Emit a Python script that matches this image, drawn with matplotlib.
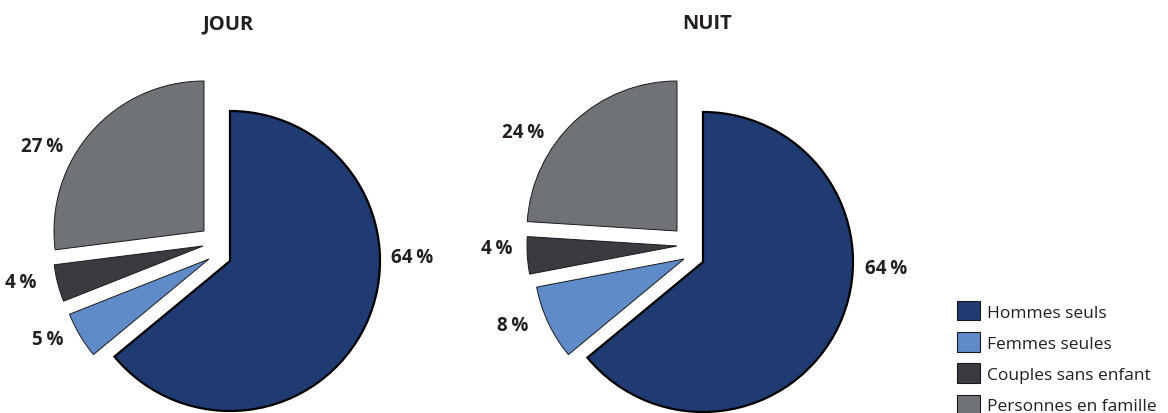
import matplotlib.pyplot as plt

# household shares, day and night
categories = ["Hommes seuls", "Femmes seules", "Couples sans enfant", "Personnes en famille"]
jour = [64, 5, 4, 27]
nuit = [64, 8, 4, 24]
titles = ["JOUR", "NUIT"]

colors = ["#203A72", "#5F8BC8", "#3A3B40", "#6F7277"]
ink = "#231F20"
W, H = 1168, 414
R = 150

# pie centres and the shift of each slice (pixels, y up)
centres = [(230, 152), (703, 151)]
shifts = [
    [(0, 0), (-21, 2), (-27, 15), (-26, 30)],
    [(0, 0), (-19, 3), (-26, 16), (-26, 31)],
]
# where the percentage labels sit
label_pos = [
    [(412, 156), (48, 74), (21, 131), (42, 267)],
    [(886, 145), (513, 88), (497, 165), (523, 281)],
]
title_pos = [(228, 390), (707, 390)]

fig = plt.figure(figsize=(W / 100, H / 100), dpi=100)
ax = fig.add_axes([0, 0, 1, 1])

font = ["Open Sans", "DejaVu Sans"]

for k, vals in enumerate([jour, nuit]):
    cx, cy = centres[k]
    wedges, _ = ax.pie(vals, colors=colors, startangle=90, counterclock=False,
                       center=(cx, cy), radius=R,
                       wedgeprops=dict(edgecolor="#1a1a1a", linewidth=0.7))
    wedges[0].set_linewidth(1.6)
    wedges[0].set_edgecolor("black")
    for w, (dx, dy) in zip(wedges, shifts[k]):
        w.set_center((cx + dx, cy + dy))
    for v, (lx, ly) in zip(vals, label_pos[k]):
        ax.text(lx, ly, f"{v}\u2009%", ha="center", va="center", fontsize=13.5,
                fontweight="bold", color=ink, family=font)
    tx, ty = title_pos[k]
    ax.text(tx, ty, titles[k], ha="center", va="center", fontsize=14.5,
            fontweight="bold", color=ink, family=font)
    if k == 0:
        handles = wedges

ax.set_xlim(0, W)
ax.set_ylim(0, H)
ax.set_aspect("equal")
ax.axis("off")

leg = fig.legend(handles, categories, loc="upper left",
                 bbox_to_anchor=(957 / W, (H - 302) / H), frameon=False,
                 prop={"family": font, "size": 12.5},
                 handlelength=1.35, handleheight=1.35, handletextpad=0.4,
                 labelspacing=0.67, borderpad=0, borderaxespad=0)
for t in leg.get_texts():
    t.set_color(ink)
for h in leg.legend_handles:
    h.set_linewidth(0.8)
    h.set_edgecolor("#1a1a1a")

fig.savefig("out.png", dpi=100)
